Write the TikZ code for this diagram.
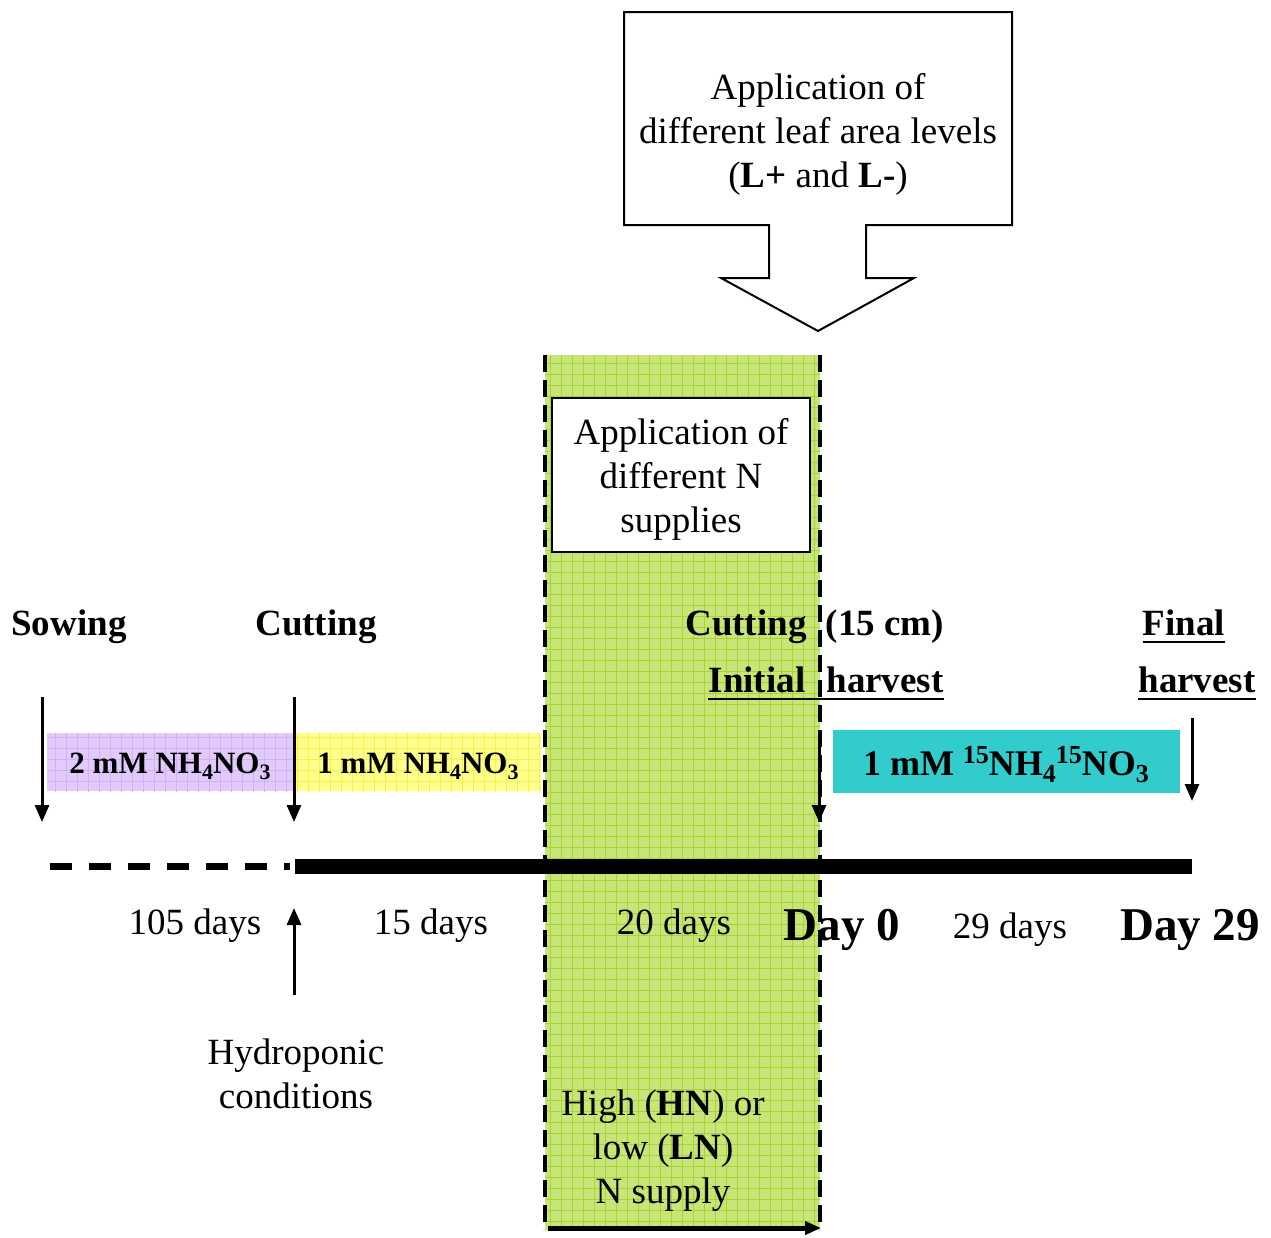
\documentclass[tikz,border=0pt]{standalone}
\usepackage{fontspec}
\setmainfont{Liberation Serif}
\usetikzlibrary{arrows.meta}
\definecolor{gfill}{RGB}{200,230,120}
\definecolor{ggrid}{RGB}{168,212,56}
\definecolor{pfill}{RGB}{226,202,252}
\definecolor{pgrid}{RGB}{208,176,246}
\definecolor{yfill}{RGB}{255,255,140}
\definecolor{ygrid}{RGB}{242,242,80}
\definecolor{cfill}{RGB}{51,204,204}
\newcommand{\chsub}[1]{\raisebox{-6pt}{\fontsize{22}{22}\selectfont #1}}
\newcommand{\chsubL}[1]{\raisebox{-7pt}{\fontsize{26}{26}\selectfont #1}}
\newcommand{\chsupL}[1]{\raisebox{12pt}{\fontsize{26}{26}\selectfont #1}}
\begin{document}
\begin{tikzpicture}[x=1pt,y=-1pt,
  txt/.style={font=\fontsize{37}{44}\selectfont, inner sep=0pt},
  lbl/.style={txt, anchor=base},
  blbl/.style={lbl, font=\fontsize{37}{44}\selectfont\bfseries},
  bigday/.style={lbl, font=\fontsize{47}{54}\selectfont\bfseries},
  chem/.style={lbl, font=\fontsize{31}{36}\selectfont\bfseries},
  chemL/.style={lbl, font=\fontsize{36}{40}\selectfont\bfseries},
  arr/.style={line width=3pt, -{Triangle[length=17pt,width=14pt]}},
  vdash/.style={line width=3.5pt, dash pattern=on 17pt off 8pt},
  uline/.style={line width=2.5pt}
]
\useasboundingbox (0,0) rectangle (1271,1237);

% green period
\fill[gfill] (545,355) rectangle (820,1230);
\begin{scope}
  \clip (545,355) rectangle (820,1230);
  \draw[ggrid, line width=0.8pt, step=11pt] (540,350) grid (825,1235);
\end{scope}

% coloured bars
\fill[pfill] (47,733) rectangle (293,791);
\begin{scope}
  \clip (47,733) rectangle (293,791);
  \draw[pgrid, line width=0.8pt, step=11pt] (40,725) grid (300,800);
\end{scope}
\fill[yfill] (295,733) rectangle (541,791);
\begin{scope}
  \clip (295,733) rectangle (541,791);
  \draw[ygrid, line width=0.8pt, step=11pt] (290,725) grid (545,800);
\end{scope}
\fill[cfill] (833,730) rectangle (1180,793);

\node[chem] (c2) at (170,773) {2 mM NH\chsub{4}NO\chsub{3}};
\node[chem] (c1) at (418,773) {1 mM NH\chsub{4}NO\chsub{3}};
\node[chemL] (c15) at (1006,775) {1 mM \chsupL{15}NH\chsubL{4}\chsupL{15}NO\chsubL{3}};

% dashed borders
\coordinate (gTL) at (545,355); \coordinate (gBL) at (545,1230);
\coordinate (gTR) at (820,355); \coordinate (gBR) at (820,1230);
\draw[vdash] (gTL) -- (gBL);
\draw[vdash] (gTR) -- (gBR);

% inner box
\draw[line width=2pt, fill=white] (552,398) rectangle (810,552);
\node[txt, align=center] (nbox) at (681,479)
  {Application of\\different N\\supplies};

% top callout
\draw[line width=2pt, fill=white] (624,12) -- (1012,12) -- (1012,225) -- (866,225) -- (866,278) -- (914,278)
  -- (818,331) -- (721,278) -- (769,278) -- (769,225) -- (624,225) -- cycle;
\node[txt, align=center] (leaf) at (818,134) {Application of\\different leaf area levels\\(\textbf{L+} and \textbf{L-})};

% event labels
\node[blbl] (sow) at (69,635) {Sowing};
\node[blbl] (cut1) at (316,635) {Cutting};
\node[blbl] (cut2) at (746,635) {Cutting};
\node[blbl] (cm) at (885,635) {(15 cm)};
\node[blbl] (ini) at (757,692) {Initial};
\node[blbl] (harv1) at (885,692) {harvest};
\node[blbl] (fin) at (1184,635) {Final};
\node[blbl] (harv2) at (1197,692) {harvest};
\draw[uline] ([yshift=-7pt]ini.base west) -- ([yshift=-7pt]harv1.base east);
\draw[uline] ([yshift=-7pt]fin.base west) -- ([yshift=-7pt]fin.base east);
\draw[uline] ([yshift=-7pt]harv2.base west) -- ([yshift=-7pt]harv2.base east);

% down arrows
\coordinate (a1s) at (42,697);  \coordinate (a1e) at (42,822);
\coordinate (a2s) at (294,697); \coordinate (a2e) at (294,822);
\coordinate (a3s) at (819,740); \coordinate (a3e) at (819,822);
\coordinate (a4s) at (1192,718); \coordinate (a4e) at (1192,801);
\draw[arr] (a1s) -- (a1e);
\draw[arr] (a2s) -- (a2e);
\draw[arr] (a3s) -- (a3e);
\draw[arr] (a4s) -- (a4e);

% timeline
\coordinate (t0) at (50,866); \coordinate (t1) at (290,866);
\coordinate (t2) at (295,866); \coordinate (t3) at (1192,866);
\draw[line width=7pt, dash pattern=on 22pt off 17pt] (t0) -- (t1);
\draw[line width=15pt] (t2) -- (t3);

% durations
\node[lbl] (d105) at (195,934) {105 days};
\node[lbl] (d15) at (431,934) {15 days};
\node[lbl] (d20) at (674,934) {20 days};
\node[bigday] (day0) at (842,940) {Day 0};
\node[lbl] (d29) at (1010,938) {29 days};
\node[bigday] (day29) at (1190,940) {Day 29};

% hydroponic
\coordinate (hs) at (294,995); \coordinate (he) at (294,908);
\draw[arr] (hs) -- (he);
\node[txt, align=center] (hyd) at (296,1074) {Hydroponic\\conditions};

% N supply
\node[txt, align=center] (nsup) at (663,1151) {High (\textbf{HN}) or\\low (\textbf{LN})\\N supply};
\coordinate (bs) at (548,1228); \coordinate (be) at (821,1228);
\draw[line width=5pt, -{Triangle[length=16pt,width=13pt]}] (bs) -- (be);
\end{tikzpicture}
\end{document}
